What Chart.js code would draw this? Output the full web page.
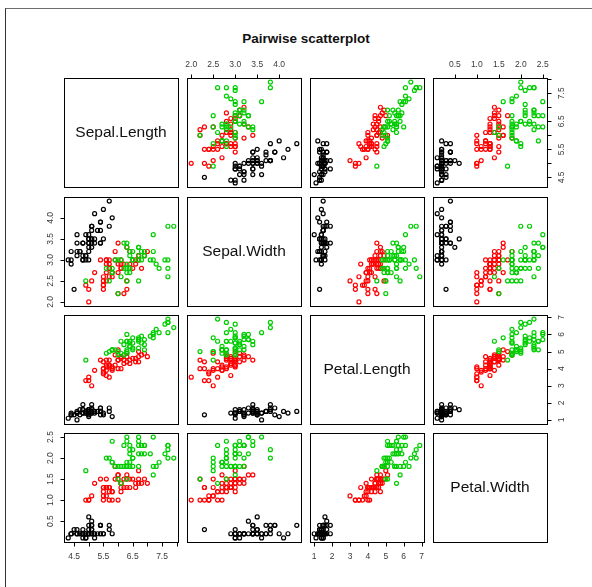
<!DOCTYPE html>
<html>
<head>
<meta charset="utf-8">
<script src="https://cdn.jsdelivr.net/npm/chart.js@4/dist/chart.umd.min.js"></script>
<style>
    html, body { margin: 0; padding: 0; background: #fff; }
    body { position: relative; width: 592px; height: 587px; overflow: hidden; font-family: "Liberation Sans", Arial, sans-serif; }
    #frame { position: absolute; left: 5px; top: 8px; width: 640px; height: 640px; border-top: 1.5px solid #6e6e6e; border-left: 1px solid #333; }
    #title { position: absolute; left: 0; top: 31px; width: 612px; line-height: 16px; text-align: center; font-weight: bold; font-size: 13.5px; color: #111; }
    .panel { position: absolute; }
</style>
</head>
<body>
<div id="frame"></div>
<div id="title">Pairwise scatterplot</div>
<div id="grid"></div>
<script>
const variables = ["Sepal.Length", "Sepal.Width", "Petal.Length", "Petal.Width"];

const sepalLength = [
    5.1, 4.9, 4.7, 4.6, 5.0, 5.4, 4.6, 5.0, 4.4, 4.9, 5.4, 4.8, 4.8, 4.3, 5.8, 5.7, 5.4, 5.1, 5.7, 5.1,
    5.4, 5.1, 4.6, 5.1, 4.8, 5.0, 5.0, 5.2, 5.2, 4.7, 4.8, 5.4, 5.2, 5.5, 4.9, 5.0, 5.5, 4.9, 4.4, 5.1,
    5.0, 4.5, 4.4, 5.0, 5.1, 4.8, 5.1, 4.6, 5.3, 5.0,
    7.0, 6.4, 6.9, 5.5, 6.5, 5.7, 6.3, 4.9, 6.6, 5.2, 5.0, 5.9, 6.0, 6.1, 5.6, 6.7, 5.6, 5.8, 6.2, 5.6,
    5.9, 6.1, 6.3, 6.1, 6.4, 6.6, 6.8, 6.7, 6.0, 5.7, 5.5, 5.5, 5.8, 6.0, 5.4, 6.0, 6.7, 6.3, 5.6, 5.5,
    5.5, 6.1, 5.8, 5.0, 5.6, 5.7, 5.7, 6.2, 5.1, 5.7,
    6.3, 5.8, 7.1, 6.3, 6.5, 7.6, 4.9, 7.3, 6.7, 7.2, 6.5, 6.4, 6.8, 5.7, 5.8, 6.4, 6.5, 7.7, 7.7, 6.0,
    6.9, 5.6, 7.7, 6.3, 6.7, 7.2, 6.2, 6.1, 6.4, 7.2, 7.4, 7.9, 6.4, 6.3, 6.1, 7.7, 6.3, 6.4, 6.0, 6.9,
    6.7, 6.9, 5.8, 6.8, 6.7, 6.7, 6.3, 6.5, 6.2, 5.9
];
const sepalWidth = [
    3.5, 3.0, 3.2, 3.1, 3.6, 3.9, 3.4, 3.4, 2.9, 3.1, 3.7, 3.4, 3.0, 3.0, 4.0, 4.4, 3.9, 3.5, 3.8, 3.8,
    3.4, 3.7, 3.6, 3.3, 3.4, 3.0, 3.4, 3.5, 3.4, 3.2, 3.1, 3.4, 4.1, 4.2, 3.1, 3.2, 3.5, 3.6, 3.0, 3.4,
    3.5, 2.3, 3.2, 3.5, 3.8, 3.0, 3.8, 3.2, 3.7, 3.3,
    3.2, 3.2, 3.1, 2.3, 2.8, 2.8, 3.3, 2.4, 2.9, 2.7, 2.0, 3.0, 2.2, 2.9, 2.9, 3.1, 3.0, 2.7, 2.2, 2.5,
    3.2, 2.8, 2.5, 2.8, 2.9, 3.0, 2.8, 3.0, 2.9, 2.6, 2.4, 2.4, 2.7, 2.7, 3.0, 3.4, 3.1, 2.3, 3.0, 2.5,
    2.6, 3.0, 2.6, 2.3, 2.7, 3.0, 2.9, 2.9, 2.5, 2.8,
    3.3, 2.7, 3.0, 2.9, 3.0, 3.0, 2.5, 2.9, 2.5, 3.6, 3.2, 2.7, 3.0, 2.5, 2.8, 3.2, 3.0, 3.8, 2.6, 2.2,
    3.2, 2.8, 2.8, 2.7, 3.3, 3.2, 2.8, 3.0, 2.8, 3.0, 2.8, 3.8, 2.8, 2.8, 2.6, 3.0, 3.4, 3.1, 3.0, 3.1,
    3.1, 3.1, 2.7, 3.2, 3.3, 3.0, 2.5, 3.0, 3.4, 3.0
];
const petalLength = [
    1.4, 1.4, 1.3, 1.5, 1.4, 1.7, 1.4, 1.5, 1.4, 1.5, 1.5, 1.6, 1.4, 1.1, 1.2, 1.5, 1.3, 1.4, 1.7, 1.5,
    1.7, 1.5, 1.0, 1.7, 1.9, 1.6, 1.6, 1.5, 1.4, 1.6, 1.6, 1.5, 1.5, 1.4, 1.5, 1.2, 1.3, 1.4, 1.3, 1.5,
    1.3, 1.3, 1.3, 1.6, 1.9, 1.4, 1.6, 1.4, 1.5, 1.4,
    4.7, 4.5, 4.9, 4.0, 4.6, 4.5, 4.7, 3.3, 4.6, 3.9, 3.5, 4.2, 4.0, 4.7, 3.6, 4.4, 4.5, 4.1, 4.5, 3.9,
    4.8, 4.0, 4.9, 4.7, 4.3, 4.4, 4.8, 5.0, 4.5, 3.5, 3.8, 3.7, 3.9, 5.1, 4.5, 4.5, 4.7, 4.4, 4.1, 4.0,
    4.4, 4.6, 4.0, 3.3, 4.2, 4.2, 4.2, 4.3, 3.0, 4.1,
    6.0, 5.1, 5.9, 5.6, 5.8, 6.6, 4.5, 6.3, 5.8, 6.1, 5.1, 5.3, 5.5, 5.0, 5.1, 5.3, 5.5, 6.7, 6.9, 5.0,
    5.7, 4.9, 6.7, 4.9, 5.7, 6.0, 4.8, 4.9, 5.6, 5.8, 6.1, 6.4, 5.6, 5.1, 5.6, 6.1, 5.6, 5.5, 4.8, 5.4,
    5.6, 5.1, 5.1, 5.9, 5.7, 5.2, 5.0, 5.2, 5.4, 5.1
];
const petalWidth = [
    0.2, 0.2, 0.2, 0.2, 0.2, 0.4, 0.3, 0.2, 0.2, 0.1, 0.2, 0.2, 0.1, 0.1, 0.2, 0.4, 0.4, 0.3, 0.3, 0.3,
    0.2, 0.4, 0.2, 0.5, 0.2, 0.2, 0.4, 0.2, 0.2, 0.2, 0.2, 0.4, 0.1, 0.2, 0.2, 0.2, 0.2, 0.1, 0.2, 0.2,
    0.3, 0.3, 0.2, 0.6, 0.4, 0.3, 0.2, 0.2, 0.2, 0.2,
    1.4, 1.5, 1.5, 1.3, 1.5, 1.3, 1.6, 1.0, 1.3, 1.4, 1.0, 1.5, 1.0, 1.4, 1.3, 1.4, 1.5, 1.0, 1.5, 1.1,
    1.8, 1.3, 1.5, 1.2, 1.3, 1.4, 1.4, 1.7, 1.5, 1.0, 1.1, 1.0, 1.2, 1.6, 1.5, 1.6, 1.5, 1.3, 1.3, 1.3,
    1.2, 1.4, 1.2, 1.0, 1.3, 1.2, 1.3, 1.3, 1.1, 1.3,
    2.5, 1.9, 2.1, 1.8, 2.2, 2.1, 1.7, 1.8, 1.8, 2.5, 2.0, 1.9, 2.1, 2.0, 2.4, 2.3, 1.8, 2.2, 2.3, 1.5,
    2.3, 2.0, 2.0, 1.8, 2.1, 1.8, 1.8, 1.8, 2.1, 1.6, 1.9, 2.0, 2.2, 1.5, 1.4, 2.3, 2.4, 1.8, 1.8, 2.1,
    2.4, 2.3, 1.9, 2.3, 2.5, 2.3, 1.9, 2.0, 2.3, 1.8
];

const speciesNames = ["setosa", "versicolor", "virginica"];
const speciesCounts = [50, 50, 50];

const sepalLengthTicks = [4.5, 5.0, 5.5, 6.0, 6.5, 7.0, 7.5, 8.0];
const sepalLengthLabels = ["4.5", "", "5.5", "", "6.5", "", "7.5", ""];
const sepalWidthTicks = [2.0, 2.5, 3.0, 3.5, 4.0];
const sepalWidthLabels = ["2.0", "2.5", "3.0", "3.5", "4.0"];
const petalLengthTicks = [1, 2, 3, 4, 5, 6, 7];
const petalLengthLabels = ["1", "2", "3", "4", "5", "6", "7"];
const petalWidthTicks = [0.5, 1.0, 1.5, 2.0, 2.5];
const petalWidthLabels = ["0.5", "1.0", "1.5", "2.0", "2.5"];

// styling / layout
const speciesColors = ["#000000", "#ff0000", "#00cd00"];
const colLeft = [64, 187, 310, 433];
const rowTop = [78, 197, 315, 433];
const panelW = 114;
const panelH = 109;
const margin = 24;
const fontFamily = '"Liberation Sans", Arial, Helvetica, sans-serif';

const columns = [sepalLength, sepalWidth, petalLength, petalWidth];
const tickSets = [sepalLengthTicks, sepalWidthTicks, petalLengthTicks, petalWidthTicks];
const labelSets = [sepalLengthLabels, sepalWidthLabels, petalLengthLabels, petalWidthLabels];

const speciesIndex = [];
speciesCounts.forEach((n, s) => {
    for (let i = 0; i < n; i++) speciesIndex.push(s);
});
const pointColors = speciesIndex.map((s) => speciesColors[s]);

// R-style axis limits: data range stretched by 4%
const ranges = columns.map((values) => {
    const lo = Math.min(...values);
    const hi = Math.max(...values);
    const pad = (hi - lo) * 0.04;
    return { min: lo - pad, max: hi + pad };
});

const drawAxis = (chart, axis) => {
    const { ctx, chartArea: a } = chart;
    const horizontal = axis.side === "top" || axis.side === "bottom";
    const scale = horizontal ? chart.scales.x : chart.scales.y;
    const dir = axis.side === "top" || axis.side === "left" ? -1 : 1;
    const edge = { top: a.top + 0.5, bottom: a.bottom + 0.5, left: a.left + 0.5, right: a.right + 0.5 }[axis.side];
    const pos = axis.ticks.map((v) => Math.round(scale.getPixelForValue(v)) + 0.5);

    ctx.strokeStyle = "#000";
    ctx.lineWidth = 1;
    ctx.beginPath();
    if (horizontal) {
        ctx.moveTo(pos[0], edge);
        ctx.lineTo(pos[pos.length - 1], edge);
    } else {
        ctx.moveTo(edge, pos[0]);
        ctx.lineTo(edge, pos[pos.length - 1]);
    }
    pos.forEach((p) => {
        if (horizontal) {
            ctx.moveTo(p, edge);
            ctx.lineTo(p, edge + dir * 4);
        } else {
            ctx.moveTo(edge, p);
            ctx.lineTo(edge + dir * 4, p);
        }
    });
    ctx.stroke();

    ctx.fillStyle = "#3a3a3a";
    ctx.font = `8.5px ${fontFamily}`;
    ctx.textAlign = "center";
    ctx.textBaseline = "middle";
    axis.labels.forEach((text, i) => {
        if (!text) {
            return;
        }
        const p = scale.getPixelForValue(axis.ticks[i]);
        if (horizontal) {
            ctx.fillText(text, p, edge + dir * 14);
        } else {
            ctx.save();
            ctx.translate(edge + dir * 14, p);
            ctx.rotate(-Math.PI / 2);
            ctx.fillText(text, 0, 0);
            ctx.restore();
        }
    });
};

const pairPanelPlugin = {
    id: "pairPanel",
    afterDatasetsDraw(chart, args, opts) {
        const { ctx, chartArea: a } = chart;
        ctx.save();
        ctx.strokeStyle = "#000";
        ctx.lineWidth = 1;
        ctx.strokeRect(a.left + 0.5, a.top + 0.5, a.right - a.left, a.bottom - a.top);

        if (opts.label) {
            ctx.fillStyle = "#111";
            ctx.font = `15.5px ${fontFamily}`;
            ctx.textAlign = "center";
            ctx.textBaseline = "middle";
            ctx.fillText(opts.label, (a.left + a.right) / 2, (a.top + a.bottom) / 2);
        }

        (opts.axes || []).forEach((axis) => drawAxis(chart, axis));
        ctx.restore();
    }
};

const grid = document.getElementById("grid");

for (let r = 0; r < 4; r++) {
    for (let c = 0; c < 4; c++) {
        const holder = document.createElement("div");
        holder.className = "panel";
        holder.style.left = `${colLeft[c] - margin}px`;
        holder.style.top = `${rowTop[r] - margin}px`;
        const canvas = document.createElement("canvas");
        canvas.width = panelW + 2 * margin;
        canvas.height = panelH + 2 * margin;
        canvas.style.width = `${canvas.width}px`;
        canvas.style.height = `${canvas.height}px`;
        holder.appendChild(canvas);
        grid.appendChild(holder);

        const axes = [];
        if (r === 0 && c % 2 === 1) axes.push({ side: "top", ticks: tickSets[c], labels: labelSets[c] });
        if (r === 3 && c % 2 === 0) axes.push({ side: "bottom", ticks: tickSets[c], labels: labelSets[c] });
        if (c === 0 && r % 2 === 1) axes.push({ side: "left", ticks: tickSets[r], labels: labelSets[r] });
        if (c === 3 && r % 2 === 0) axes.push({ side: "right", ticks: tickSets[r], labels: labelSets[r] });

        const diagonal = r === c;
        const points = diagonal ? [] : columns[c].map((x, i) => ({ x, y: columns[r][i] }));

        new Chart(canvas, {
            type: "scatter",
            data: {
                datasets: [
                    {
                        label: `${variables[r]} ~ ${variables[c]}`,
                        data: points,
                        pointBorderColor: pointColors,
                        pointBackgroundColor: "rgba(0, 0, 0, 0)",
                        pointBorderWidth: 1.2,
                        pointRadius: 2,
                        pointHoverRadius: 2
                    }
                ]
            },
            options: {
                responsive: false,
                animation: false,
                events: [],
                layout: {
                    padding: margin
                },
                plugins: {
                    legend: { display: false },
                    tooltip: { enabled: false },
                    pairPanel: {
                        label: diagonal ? variables[r] : null,
                        axes
                    }
                },
                scales: {
                    x: { type: "linear", display: false, min: ranges[c].min, max: ranges[c].max },
                    y: { type: "linear", display: false, min: ranges[r].min, max: ranges[r].max }
                }
            },
            plugins: [pairPanelPlugin]
        });
    }
}
</script>
</body>
</html>
